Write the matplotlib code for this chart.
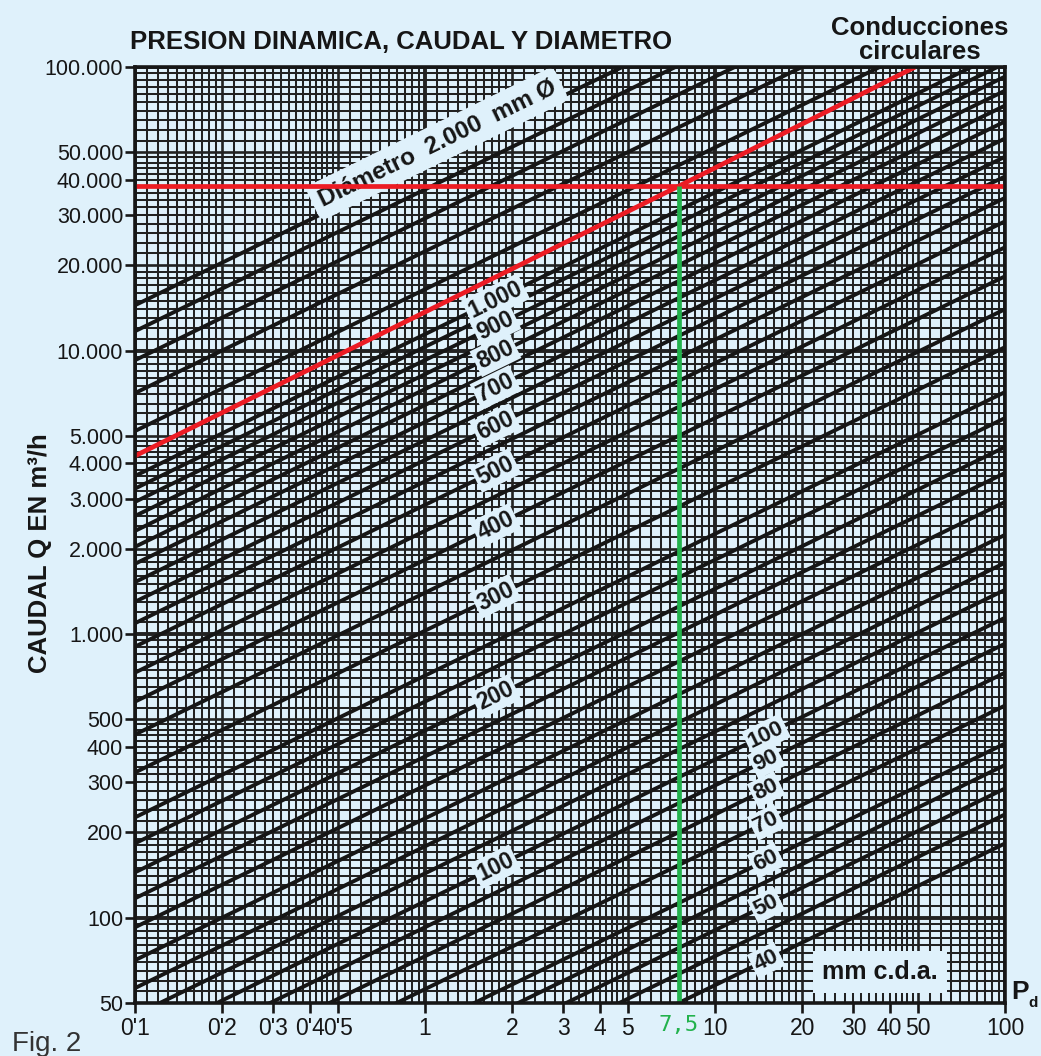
import numpy as np
import matplotlib
matplotlib.use("Agg")
import matplotlib.pyplot as plt
from matplotlib import font_manager
from matplotlib.transforms import blended_transform_factory

# ---------------- data ----------------
diam_mm = [2000, 1800, 1600, 1400, 1200, 1000, 950, 900, 850, 800, 750, 700,
           650, 600, 550, 500, 450, 400, 350, 300, 250, 225, 200, 180, 160,
           140, 125, 112, 100, 90, 80, 70, 60, 55, 50, 45, 40]
flow_coef = 11420.0          # m3/h per m2 of section at 1 mm c.d.a.

left_label_diam = [1000, 900, 800, 700, 600, 500, 400, 300, 200, 100]
left_label_text = ["1.000", "900", "800", "700", "600", "500", "400", "300", "200", "100"]
right_label_diam = [100, 90, 80, 70, 60, 50, 40]
right_label_text = ["100", "90", "80", "70", "60", "50", "40"]

x_ticks = [0.1, 0.2, 0.3, 0.4, 0.5, 1, 2, 3, 4, 5, 10, 20, 30, 40, 50, 100]
x_tick_labels = ["0'1", "0'2", "0'3", "0'4", "0'5", "1", "2", "3", "4", "5",
                 "10", "20", "30", "40", "50", "100"]
y_ticks = [50, 100, 200, 300, 400, 500, 1000, 2000, 3000, 4000, 5000,
           10000, 20000, 30000, 40000, 50000, 100000]
y_tick_labels = ["50", "100", "200", "300", "400", "500", "1.000", "2.000",
                 "3.000", "4.000", "5.000", "10.000", "20.000", "30.000",
                 "40.000", "50.000", "100.000"]

red_pd = [0.1, 7.5, 49]
red_q = [4250, 38000, 100000]
sel_pd = 7.5
sel_q = 38000

# ---------------- style ----------------
BG = "#dff1fb"
RED = "#ec1c24"
GREEN = "#22b24c"
INK = "#161616"

installed = {f.name for f in font_manager.fontManager.ttflist}
SANS = "Liberation Sans" if "Liberation Sans" in installed else "DejaVu Sans"
NARROW = "Liberation Sans Narrow" if "Liberation Sans Narrow" in installed else SANS

W, H = 1041, 1056
fig = plt.figure(figsize=(W / 100, H / 100), dpi=100, facecolor=BG)
L, R, T, B = 135, 1005, 67, 1003
ax = fig.add_axes([L / W, (H - B) / H, (R - L) / W, (B - T) / H])
ax.set_facecolor(BG)
ax.set_xscale("log")
ax.set_yscale("log")
ax.set_xlim(0.1, 100)
ax.set_ylim(50, 100000)

# ---------------- log paper grid ----------------
mant = list(range(10, 20, 1)) + list(range(20, 50, 2)) + list(range(50, 100, 5))


def paper(lo, hi):
    res = {"major": [], "mid": [], "minor": []}
    for e in range(-2, 6):
        for m in mant:
            v = (10.0 ** e) * m / 10.0
            if lo * 0.999 <= v <= hi * 1.001:
                kind = "major" if m == 10 else ("mid" if m in (20, 50) else "minor")
                res[kind].append(v)
    return res


gx = paper(0.1, 100)
gy = paper(50, 100000)
widths = {"minor": 1.45, "mid": 1.9, "major": 2.8}
xt = ax.get_xaxis_transform()
yt = ax.get_yaxis_transform()
for kind, lw in widths.items():
    ax.vlines(gx[kind], 0, 1, transform=xt, colors="#222222", lw=lw, zorder=1)
    ax.hlines(gy[kind], 0, 1, transform=yt, colors="#222222", lw=lw, zorder=1)

# ---------------- diameter lines ----------------
pd_span = np.array([0.1, 100.0])
for d in diam_mm:
    q = flow_coef * (d / 1000.0) ** 2 * np.sqrt(pd_span)
    ax.plot(pd_span, q, color=INK, lw=2.8, zorder=3, solid_capstyle="butt")

p0 = ax.transData.transform((1.0, 1000.0))
p1 = ax.transData.transform((100.0, 10000.0))
ang = np.degrees(np.arctan2(p1[1] - p0[1], p1[0] - p0[0]))


def qline(d, pd):
    return flow_coef * (d / 1000.0) ** 2 * np.sqrt(pd)


box = dict(boxstyle="square,pad=0.12", fc=BG, ec="none")
for d, txt in zip(left_label_diam, left_label_text):
    pdl = 1.75
    ax.text(pdl, qline(d, pdl), txt, rotation=ang, rotation_mode="anchor",
            ha="center", va="center", fontsize=16.5, fontweight="bold",
            family=SANS, color=INK, bbox=box, zorder=5)
for d, txt in zip(right_label_diam, right_label_text):
    pdr = 15.0
    ax.text(pdr, qline(d, pdr), txt, rotation=ang, rotation_mode="anchor",
            ha="center", va="center", fontsize=16, fontweight="bold",
            family=SANS, color=INK, bbox=box, zorder=5)

pdd = 1.1
ax.text(pdd, qline(2000, pdd) * 1.12, "Diámetro  2.000  mm Ø", rotation=ang,
        rotation_mode="anchor", ha="center", va="center", fontsize=17.5,
        fontweight="bold", family=SANS, color=INK,
        bbox=dict(boxstyle="round,pad=0.3", fc=BG, ec="none"), zorder=5)

# ---------------- selection lines ----------------
ax.plot(red_pd, red_q, color=RED, lw=3.4, zorder=7, solid_capstyle="butt")
ax.axhline(sel_q, color=RED, lw=3.4, zorder=7)
ax.vlines(sel_pd, 50, sel_q, colors=GREEN, lw=3.4, zorder=7)

# ---------------- axes / ticks ----------------
for s in ax.spines.values():
    s.set_linewidth(2.6)
    s.set_color(INK)
    s.set_zorder(8)
ax.set_xticks(x_ticks)
ax.set_xticklabels(x_tick_labels, family=NARROW, fontsize=16.5, color=INK)
ax.set_yticks(y_ticks)
ax.set_yticklabels(y_tick_labels, family=SANS, fontsize=15.5, color=INK)
ax.xaxis.set_minor_locator(matplotlib.ticker.NullLocator())
ax.yaxis.set_minor_locator(matplotlib.ticker.NullLocator())
ax.tick_params(axis="both", which="major", direction="out", length=7,
               width=1.9, color=INK)
ax.tick_params(axis="x", pad=3)
ax.tick_params(axis="y", pad=1.5)

ax.text(sel_pd, -0.024, "7,5", transform=blended_transform_factory(ax.transData, ax.transAxes),
        ha="center", va="center", color=GREEN, family="DejaVu Sans Mono", fontsize=16)

# ---------------- figure texts ----------------
def fx(x):
    return x / W


def fy(y):
    return 1 - y / H


fig.text(fx(130), fy(42), "PRESION DINAMICA, CAUDAL Y DIAMETRO", ha="left",
         va="center", fontsize=18.5, fontweight="bold", family=SANS, color=INK)
fig.text(fx(920), fy(40), "Conducciones\ncirculares", ha="center", va="center",
         fontsize=18.5, fontweight="bold", family=SANS, color=INK, linespacing=0.95)
fig.text(fx(40), fy(553), "CAUDAL Q EN m³/h", rotation=90, ha="center",
         va="center", fontsize=18.5, fontweight="bold", family=SANS, color=INK)
fig.text(fx(880), fy(972), "mm c.d.a.", ha="center", va="center", fontsize=18,
         fontweight="bold", family=SANS, color=INK,
         bbox=dict(boxstyle="square,pad=0.35", fc=BG, ec="none"), zorder=10)
fig.text(fx(1011), fy(992), "P", ha="left", va="center", fontsize=19,
         fontweight="bold", family=SANS, color=INK)
fig.text(fx(1028), fy(1003), "d", ha="left", va="center", fontsize=11,
         fontweight="bold", family=SANS, color=INK)
fig.text(fx(12), fy(1044), "Fig. 2", ha="left", va="center", fontsize=20,
         family=NARROW, color="#333333")

fig.savefig("out.png", dpi=100, facecolor=BG)
